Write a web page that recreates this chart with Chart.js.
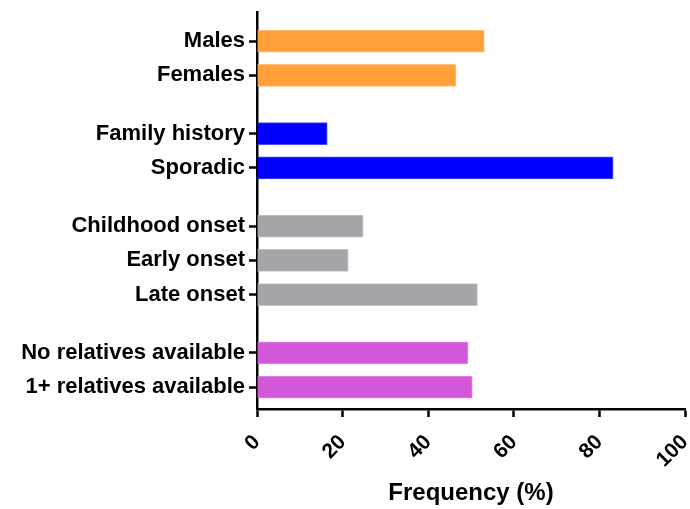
<!DOCTYPE html>
<html>
<head>
<meta charset="utf-8">
<script src="https://cdn.jsdelivr.net/npm/chart.js@4/dist/chart.umd.min.js"></script>
<style>
  html, body { margin: 0; padding: 0; background: #fff; }
  #wrap { width: 690px; height: 509px; }
</style>
</head>
<body>
<div id="wrap"><canvas id="freq-canvas"></canvas></div>
<script>
    'use strict';

    var categories = ['Males', 'Females', 'Family history', 'Sporadic',
      'Childhood onset', 'Early onset', 'Late onset',
      'No relatives available', '1+ relatives available'];
    var frequencies = [53.1, 46.5, 16.4, 83.2, 24.8, 21.3, 51.5, 49.3, 50.3];
    var groupSizes = [2, 2, 3, 2];
    var groupColors = ['#FFA03A', '#0000FF', '#A5A4A8', '#D357D9'];
    var groupBorders = ['#FFC27E', '#4B4BFF', '#C4C3C7', '#E38DE6'];
    var xTicks = [0, 20, 40, 60, 80, 100];

    // spread the groups on a numeric axis so there's a gap between them
    var groupGap = 0.7;
    var slots = [], colors = [], borders = [];
    var pos = 0;
    groupSizes.forEach(function(n, g) {
        for (var i = 0; i < n; i++) {
            slots.push(pos);
            colors.push(groupColors[g]);
            borders.push(groupBorders[g]);
            pos += 1;
        }
        pos += groupGap;
    });

    var points = frequencies.map(function(v, i) {
        return { x: v, y: slots[i] };
    });

    var font = 'Liberation Sans, Arial, sans-serif';

    var ctx = document.getElementById('freq-canvas').getContext('2d');
    var chartObj = new Chart(ctx, {
        type: 'bar',
        data: {
            datasets: [{
                data: points,
                backgroundColor: colors,
                borderColor: borders,
                borderWidth: 1,
                barThickness: 22
            }]
        },
        options: {
            indexAxis: 'y',
            responsive: true,
            maintainAspectRatio: false,
            animation: false,
            layout: { padding: { left: 0, right: 5, top: 12, bottom: 0 } },
            plugins: { legend: { display: false }, tooltip: { enabled: false } },
            scales: {
                y: {
                    type: 'linear',
                    reverse: true,
                    offset: false,
                    min: -0.85,
                    max: slots[slots.length - 1] + 0.64,
                    afterBuildTicks: function(axis) {
                        axis.ticks = slots.map(function(s) { return { value: s }; });
                    },
                    afterFit: function(axis) {
                        axis.width = 257;
                        axis.paddingTop = 0;
                        axis.paddingBottom = 0;
                    },
                    ticks: {
                        autoSkip: false,
                        padding: 4,
                        color: '#000',
                        font: { family: font, size: 22, weight: 'bold' },
                        callback: function(value, index) { return categories[index]; }
                    },
                    grid: {
                        offset: false,
                        drawOnChartArea: false,
                        drawTicks: true,
                        tickLength: 8,
                        tickWidth: 2.5,
                        tickColor: '#000'
                    },
                    border: { display: true, color: '#000', width: 2.5 }
                },
                x: {
                    type: 'linear',
                    min: 0,
                    max: 100,
                    afterBuildTicks: function(axis) {
                        axis.ticks = xTicks.map(function(v) { return { value: v }; });
                    },
                    afterFit: function(axis) {
                        axis.height = 100;
                        axis.paddingLeft = 0;
                        axis.paddingRight = 0;
                    },
                    ticks: {
                        maxRotation: 45,
                        minRotation: 45,
                        padding: 13,
                        color: '#000',
                        font: { family: font, size: 21, weight: 'bold' }
                    },
                    grid: {
                        drawOnChartArea: false,
                        drawTicks: true,
                        tickLength: 8,
                        tickWidth: 2.5,
                        tickColor: '#000'
                    },
                    border: { display: true, color: '#000', width: 2.5 },
                    title: {
                        display: true,
                        text: 'Frequency (%)',
                        color: '#000',
                        padding: { top: 0, bottom: 1 },
                        font: { family: font, size: 24, weight: 'bold' }
                    }
                }
            }
        }
    });
</script>
</body>
</html>
